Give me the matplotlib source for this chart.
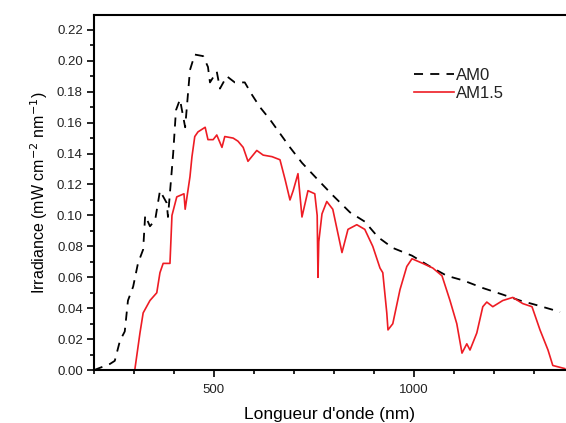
import matplotlib
matplotlib.use("Agg")
import matplotlib.pyplot as plt
from matplotlib.ticker import MultipleLocator

# spectra (wavelength nm, irradiance mW cm-2 nm-1)
am0_wl = [200, 240, 252, 265, 277, 285, 298, 310, 323, 328, 340, 353, 365, 382, 385,
          398, 405, 415, 428, 440, 452, 473, 485, 490, 507, 515, 532, 552, 577, 595,
          615, 640, 665, 690, 720, 760, 797, 840, 877, 910, 947, 995, 1040, 1082,
          1123, 1173, 1220, 1265, 1307, 1347, 1365]
am0_irr = [0.0, 0.004, 0.006, 0.019, 0.025, 0.045, 0.054, 0.069, 0.078, 0.100, 0.093,
           0.097, 0.116, 0.108, 0.099, 0.140, 0.168, 0.175, 0.157, 0.194, 0.204, 0.203,
           0.196, 0.186, 0.193, 0.182, 0.190, 0.186, 0.186, 0.178, 0.170, 0.162, 0.153,
           0.144, 0.134, 0.123, 0.113, 0.102, 0.096, 0.086, 0.079, 0.074, 0.067, 0.061,
           0.058, 0.053, 0.049, 0.045, 0.042, 0.039, 0.0375]

am15_wl = [302, 315, 323, 340, 357, 365, 373, 390, 395, 407, 425, 428, 440, 445, 452,
           460, 478, 485, 498, 507, 520, 527, 548, 560, 573, 585, 607, 623, 645, 665,
           678, 690, 698, 710, 720, 735, 752, 758, 760, 762, 770, 782, 797, 820, 835,
           857, 877, 897, 915, 922, 932, 935, 947, 965, 982, 995, 1022, 1047, 1070,
           1090, 1107, 1120, 1132, 1140, 1157, 1172, 1182, 1197, 1222, 1247, 1272,
           1295, 1315, 1335, 1347, 1377]
am15_irr = [0.0, 0.024, 0.037, 0.045, 0.050, 0.063, 0.069, 0.069, 0.100, 0.112, 0.114,
            0.104, 0.125, 0.138, 0.151, 0.154, 0.157, 0.149, 0.149, 0.152, 0.144, 0.151,
            0.150, 0.148, 0.144, 0.135, 0.142, 0.139, 0.138, 0.136, 0.123, 0.110, 0.116,
            0.127, 0.099, 0.116, 0.114, 0.100, 0.060, 0.083, 0.101, 0.109, 0.104, 0.076,
            0.091, 0.094, 0.091, 0.080, 0.066, 0.063, 0.037, 0.026, 0.030, 0.052, 0.067,
            0.072, 0.069, 0.066, 0.061, 0.045, 0.030, 0.011, 0.017, 0.013, 0.024, 0.041,
            0.044, 0.041, 0.045, 0.047, 0.043, 0.041, 0.026, 0.013, 0.003, 0.001]

plt.rcParams['font.family'] = ['Liberation Sans', 'DejaVu Sans']
plt.rcParams['text.color'] = '#222222'

fig = plt.figure(figsize=(5.66, 4.23), dpi=100)
ax = fig.add_axes([0.166, 0.125, 0.834, 0.84])

ax.plot(am0_wl, am0_irr, color='black', lw=1.3, dashes=(5, 4), label='AM0')
ax.plot(am15_wl, am15_irr, color='#ee1c24', lw=1.2, label='AM1.5')

ax.set_xlim(200, 1380)
ax.set_ylim(0, 0.2297)
ax.xaxis.set_major_locator(MultipleLocator(500))
ax.xaxis.set_minor_locator(MultipleLocator(100))
ax.yaxis.set_major_locator(MultipleLocator(0.02))
ax.yaxis.set_minor_locator(MultipleLocator(0.01))
ax.yaxis.set_major_formatter(lambda v, p: f"{v:.2f}")
ax.tick_params(which='major', length=5, width=1.2, labelsize=9.5,
               labelcolor='#222222', pad=3)
ax.tick_params(which='minor', length=3, width=1.2)
ax.tick_params(axis='x', which='major', pad=5)
for s in ['left', 'bottom', 'top']:
    ax.spines[s].set_linewidth(1.5)
ax.spines['right'].set_visible(False)

ax.set_xlabel("Longueur d'onde (nm)", fontsize=12.5, labelpad=8)
ax.set_ylabel("Irradiance (mW cm$^{-2}$ nm$^{-1}$)", fontsize=11.5, labelpad=5)

ax.legend(loc='upper left', bbox_to_anchor=(0.705, 0.875), bbox_transform=fig.transFigure,
          frameon=False, fontsize=12, handlelength=2.4, handletextpad=0.1,
          labelspacing=0.2)

fig.savefig('out.png', dpi=100)
